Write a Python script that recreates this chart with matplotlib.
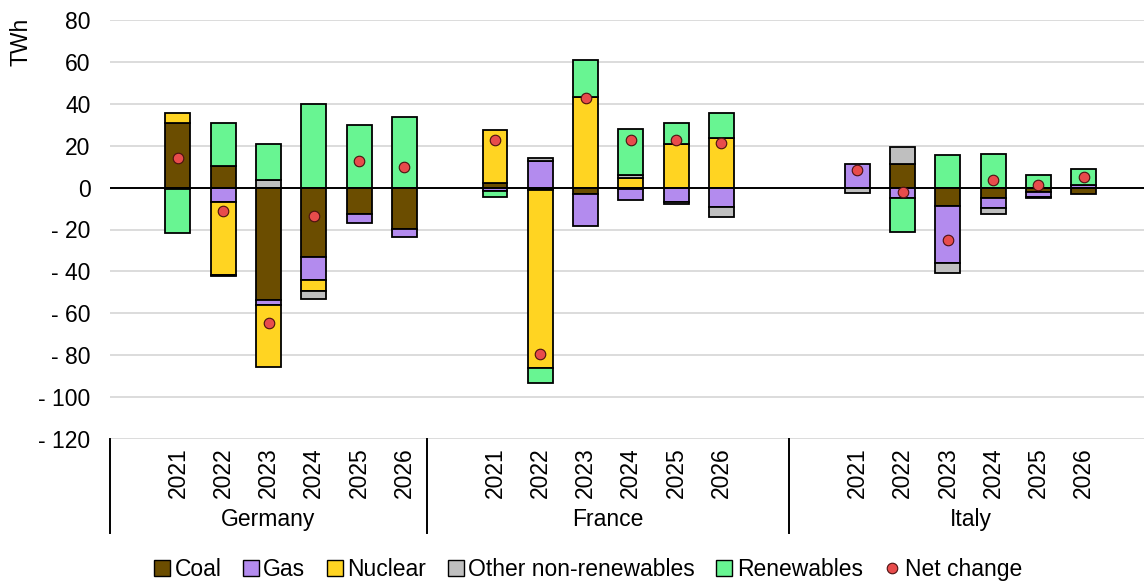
import numpy as np
import matplotlib
matplotlib.use("Agg")
import matplotlib.pyplot as plt
from matplotlib.patches import Patch
from matplotlib.lines import Line2D
from matplotlib.ticker import FuncFormatter

# ---------------- data ----------------
countries = ["Germany", "France", "Italy"]
years = ["2021", "2022", "2023", "2024", "2025", "2026"]

# order: Germany 2021-2026, France 2021-2026, Italy 2021-2026
coal = [31.0, 10.5, -53.7, -33.0, -12.4, -19.9,
        2.0, -1.0, -3.0, -0.8, 0.0, 0.0,
        0.0, 11.4, -8.6, -5.1, -2.0, -2.9]
gas = [-0.6, -7.1, -2.3, -11.1, -4.4, -3.6,
       -1.5, 12.9, -15.4, -4.9, -7.0, -9.4,
       11.1, -5.2, -27.3, -4.6, -2.5, 1.3]
nuclear = [4.8, -34.7, -29.7, -5.1, 0.0, 0.0,
           25.6, -85.0, 43.1, 4.6, 20.7, 23.8,
           0.0, 0.0, 0.0, 0.0, 0.0, 0.0]
other_nonrenew = [0.0, -0.5, 3.5, -4.1, 0.0, 0.0,
                  0.0, 1.2, 0.0, 1.2, -1.0, -4.7,
                  -2.5, 7.9, -4.8, -2.7, -0.6, 0.0]
renewables = [-21.3, 20.5, 17.5, 40.0, 29.8, 33.6,
              -3.0, -7.5, 17.9, 22.1, 10.0, 11.6,
              0.0, -16.2, 15.5, 15.9, 6.2, 7.4]
net_change = [14.1, -11.4, -64.8, -13.5, 12.7, 9.8,
              22.9, -79.2, 42.8, 22.5, 22.9, 21.4,
              8.6, -2.1, -25.1, 3.6, 1.1, 5.0]

series_names = ["Coal", "Gas", "Nuclear", "Other non-renewables", "Renewables"]
series_vals = [coal, gas, nuclear, other_nonrenew, renewables]
series_colors = ["#6B4D00", "#B38BEE", "#FFD422", "#BFBFBF", "#68F592"]
net_color = "#E84C4C"

# ---------------- layout of categories ----------------
group_first = [1, 8, 16]          # slot index of first year of each group
group_bounds = [(-0.5, 6.5), (6.5, 14.5), (14.5, 22.5)]
x = np.concatenate([np.arange(len(years)) + g for g in group_first]).astype(float)
xlabels = years * len(countries)

plt.rcParams['font.family'] = ['Liberation Sans', 'DejaVu Sans']
FS = 16.5

fig = plt.figure(figsize=(11.44, 5.84), dpi=100)
ax = fig.add_axes([110 / 1144, 145 / 584, 1034 / 1144, 419 / 584])

pos_base = np.zeros(len(x))
neg_base = np.zeros(len(x))
for vals, col in zip(series_vals, series_colors):
    v = np.asarray(vals, dtype=float)
    bottom = np.where(v >= 0, pos_base, neg_base)
    m = v != 0
    ax.bar(x[m], v[m], bottom=bottom[m], width=0.55, color=col,
           edgecolor="black", linewidth=1.3, zorder=2)
    pos_base = pos_base + np.where(v > 0, v, 0)
    neg_base = neg_base + np.where(v < 0, v, 0)

ax.axhline(0, color="black", linewidth=1.4, zorder=3)
ax.plot(x, net_change, linestyle="none", marker="o", markersize=7.6,
        markerfacecolor=net_color, markeredgecolor="#4a1010",
        markeredgewidth=0.8, zorder=4)

ax.set_xlim(-0.5, 22.33)
ax.set_ylim(-120, 80)
ax.set_yticks(np.arange(-120, 81, 20))
ax.yaxis.set_major_formatter(FuncFormatter(
    lambda v, p: f"- {abs(int(v))}" if v < 0 else f"{int(v)}"))
ax.yaxis.grid(True, color="#D9D9D9", linewidth=1.3)
ax.set_axisbelow(True)
for s in ax.spines.values():
    s.set_visible(False)

ax.set_xticks(x)
ax.set_xticklabels(xlabels, rotation=90)
ax.tick_params(axis="x", length=0, pad=6, labelsize=FS)
ax.tick_params(axis="y", length=0, pad=14, labelsize=FS)

trans = ax.get_xaxis_transform()
for lo, hi in group_bounds:
    ax.plot([lo, lo], [0, -0.2243], transform=trans, color="black",
            linewidth=1.4, clip_on=False)
for name, (lo, hi) in zip(countries, group_bounds):
    ax.text((lo + hi) / 2, -0.191, name, transform=trans, ha="center",
            va="center", fontsize=FS)

fig.text(21 / 1144, 1 - 18 / 584, "TWh", rotation=90, ha="center", va="top",
         fontsize=FS)

handles = [Patch(facecolor=c, edgecolor="black", linewidth=1.0) for c in series_colors]
handles.append(Line2D([], [], linestyle="none", marker="o", markersize=7.6,
                      markerfacecolor=net_color, markeredgecolor="#4a1010",
                      markeredgewidth=0.8))
labels = series_names + ["Net change"]
fig.legend(handles, labels, loc="center", bbox_to_anchor=(0.514, 0.024),
           ncol=6, frameon=False, fontsize=FS, handlelength=0.7,
           handleheight=0.7, handletextpad=0.2, columnspacing=0.93,
           borderpad=0, borderaxespad=0)

fig.savefig("out.png", dpi=100)
